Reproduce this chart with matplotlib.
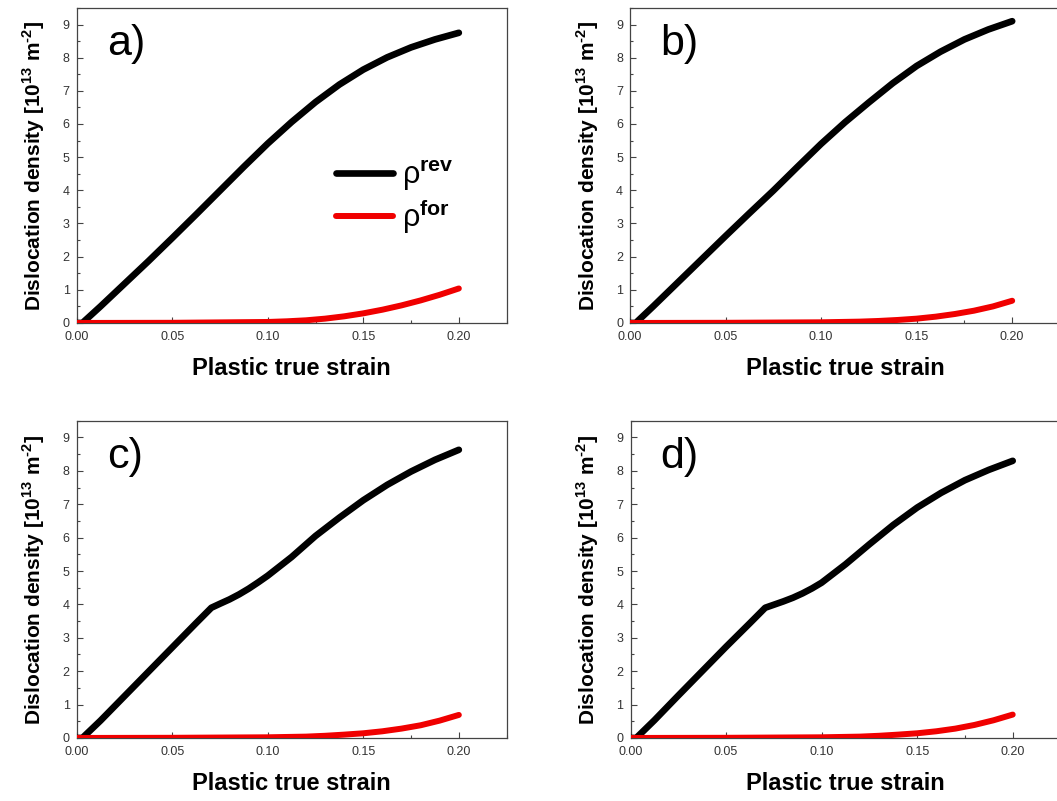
import matplotlib
matplotlib.use("Agg")
import matplotlib.pyplot as plt
from matplotlib.ticker import MultipleLocator, FormatStrFormatter

plt.rcParams['font.family'] = ['Liberation Sans', 'DejaVu Sans']
plt.rcParams['mathtext.fontset'] = 'custom'
plt.rcParams['mathtext.rm'] = 'Liberation Sans'
plt.rcParams['mathtext.bf'] = 'Liberation Sans:bold'

# panel a
a_rev_x = [0, 0.003, 0.0125, 0.025, 0.0375, 0.05, 0.0625, 0.075, 0.0875, 0.1, 0.1125, 0.125, 0.1375, 0.15, 0.1625, 0.175, 0.1875, 0.2]
a_rev_y = [0, 0.0, 0.5, 1.18, 1.86, 2.56, 3.27, 3.99, 4.71, 5.41, 6.06, 6.66, 7.19, 7.64, 8.01, 8.31, 8.55, 8.75]
a_for_x = [0, 0.05, 0.1, 0.11, 0.12, 0.13, 0.14, 0.15, 0.16, 0.17, 0.18, 0.19, 0.2]
a_for_y = [0, 0.005, 0.03, 0.05, 0.08, 0.13, 0.2, 0.29, 0.4, 0.53, 0.68, 0.85, 1.04]

# panel b
b_rev_x = [0, 0.003, 0.0125, 0.025, 0.0375, 0.05, 0.0625, 0.075, 0.0875, 0.1, 0.1125, 0.125, 0.1375, 0.15, 0.1625, 0.175, 0.1875, 0.2]
b_rev_y = [0, 0.0, 0.52, 1.22, 1.92, 2.62, 3.31, 3.99, 4.7, 5.4, 6.05, 6.65, 7.23, 7.75, 8.18, 8.55, 8.85, 9.1]
b_for_x = [0, 0.05, 0.1, 0.12, 0.13, 0.14, 0.15, 0.16, 0.17, 0.18, 0.19, 0.2]
b_for_y = [0, 0.005, 0.02, 0.04, 0.06, 0.09, 0.13, 0.19, 0.27, 0.37, 0.5, 0.67]

# panel c
c_rev_x = [0, 0.003, 0.0125, 0.025, 0.0375, 0.05, 0.0625, 0.0705, 0.075, 0.08, 0.085, 0.09, 0.095, 0.1, 0.1125, 0.125, 0.1375, 0.15, 0.1625, 0.175, 0.1875, 0.2]
c_rev_y = [0, 0.0, 0.52, 1.25, 1.98, 2.71, 3.44, 3.9, 4.02, 4.15, 4.3, 4.47, 4.66, 4.86, 5.42, 6.05, 6.6, 7.12, 7.58, 7.98, 8.33, 8.63]
c_for_x = [0, 0.05, 0.1, 0.12, 0.13, 0.14, 0.15, 0.16, 0.17, 0.18, 0.19, 0.2]
c_for_y = [0, 0.005, 0.02, 0.04, 0.065, 0.1, 0.14, 0.2, 0.28, 0.38, 0.52, 0.69]

# panel d
d_rev_x = [0, 0.003, 0.0125, 0.025, 0.0375, 0.05, 0.0625, 0.0705, 0.075, 0.08, 0.085, 0.09, 0.095, 0.1, 0.1125, 0.125, 0.1375, 0.15, 0.1625, 0.175, 0.1875, 0.2]
d_rev_y = [0, 0.0, 0.53, 1.27, 2.0, 2.73, 3.44, 3.9, 3.99, 4.09, 4.2, 4.33, 4.48, 4.65, 5.2, 5.8, 6.38, 6.9, 7.34, 7.72, 8.03, 8.3]
d_for_x = [0, 0.05, 0.1, 0.12, 0.13, 0.14, 0.15, 0.16, 0.17, 0.18, 0.19, 0.2]
d_for_y = [0, 0.005, 0.02, 0.04, 0.065, 0.1, 0.14, 0.2, 0.28, 0.39, 0.53, 0.7]

panels = [
    ('a)', a_rev_x, a_rev_y, a_for_x, a_for_y, [0.0725, 0.5968, 0.4068, 0.3933]),
    ('b)', b_rev_x, b_rev_y, b_for_x, b_for_y, [0.5960, 0.5968, 0.4068, 0.3933]),
    ('c)', c_rev_x, c_rev_y, c_for_x, c_for_y, [0.0725, 0.0787, 0.4068, 0.3960]),
    ('d)', d_rev_x, d_rev_y, d_for_x, d_for_y, [0.5965, 0.0787, 0.4068, 0.3960]),
]

fig = plt.figure(figsize=(10.57, 8.01), dpi=100)

for label, rx, ry, fx, fy, pos in panels:
    ax = fig.add_axes(pos)
    ax.plot(rx, ry, color='black', lw=4.8, solid_capstyle='round', solid_joinstyle='round',
            label='ρ$^{\\mathbf{rev}}$', zorder=3)
    ax.plot(fx, fy, color='#f00000', lw=4.3, solid_capstyle='round', solid_joinstyle='round',
            label='ρ$^{\\mathbf{for}}$', zorder=4)
    ax.set_xlim(0, 0.225)
    ax.set_ylim(0, 9.5)
    ax.xaxis.set_major_locator(MultipleLocator(0.05))
    ax.xaxis.set_minor_locator(MultipleLocator(0.025))
    ax.yaxis.set_major_locator(MultipleLocator(1))
    ax.yaxis.set_minor_locator(MultipleLocator(0.5))
    ax.xaxis.set_major_formatter(FormatStrFormatter('%.2f'))
    ax.tick_params(which='both', direction='in', top=False, right=False,
                   labelsize=9, labelcolor='#333333', color='#444444', width=0.8)
    ax.tick_params(which='major', length=4)
    ax.tick_params(which='minor', length=2)
    ax.tick_params(axis='x', which='major', pad=6)
    ax.tick_params(axis='y', which='major', pad=5)
    for s in ax.spines.values():
        s.set_color('#444444')
        s.set_linewidth(0.9)
    ax.set_xlabel('Plastic true strain', fontsize=17, fontweight='bold', labelpad=10)
    ax.set_ylabel('Dislocation density [10$^{\\mathbf{13}}$ m$^{\\mathbf{\u2010 2}}$]',
                  fontsize=15, fontweight='bold', labelpad=11)
    ax.text(0.07, 0.885, label, transform=ax.transAxes, fontsize=31,
            ha='left', va='center')
    if label == 'a)':
        ax.legend(loc='center left', bbox_to_anchor=(0.54, 0.40), frameon=False,
                  fontsize=22, handlelength=1.85, handletextpad=0.3, labelspacing=0.15)

fig.savefig('out.png', dpi=100)
